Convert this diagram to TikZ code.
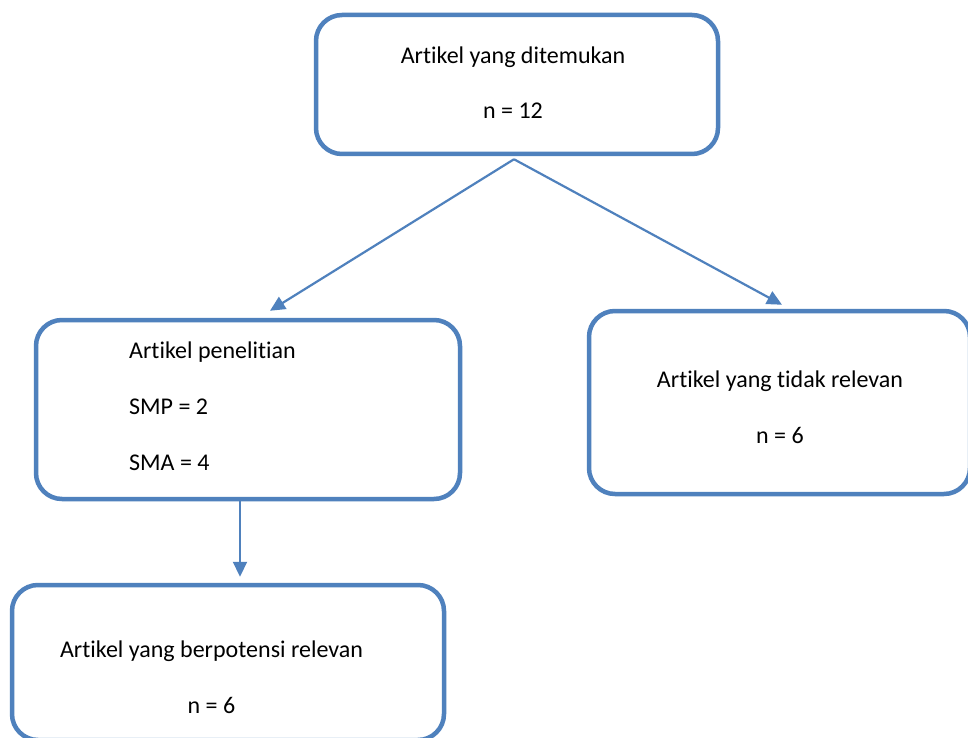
\documentclass[tikz,border=0pt]{standalone}
\usepackage{fontspec}
\setmainfont[Ligatures={NoCommon}]{Carlito}
\usetikzlibrary{arrows.meta}
\definecolor{boxblue}{HTML}{4F81BD}
\tikzset{
  box/.style={draw=boxblue, line width=4.5pt, rounded corners=26pt, fill=none, inner sep=0pt},
  lbl/.style={inner sep=0pt, font=\fontsize{24}{28}\selectfont, text=black},
  conn/.style={draw=boxblue, line width=2.2pt, -{Triangle[length=15pt,width=14pt]}}
}
\begin{document}
\begin{tikzpicture}[x=1pt,y=-1pt]
\useasboundingbox (0,0) rectangle (968,738);
\fill[white] (0,0) rectangle (968,738);
\begin{scope}
\clip (0,0) rectangle (968,738);
\node[box, minimum width=402pt, minimum height=139pt] (top) at (517,84.5) {};
\node[box, minimum width=424pt, minimum height=179pt] (left) at (248,409.5) {};
\node[box, minimum width=381pt, minimum height=183pt] (right) at (779.5,402.5) {};
\node[box, minimum width=432pt, minimum height=155pt] (bottom) at (228,662.5) {};
\end{scope}

\node[lbl, anchor=base] (t1) at (513,64) {Artikel yang ditemukan};
\node[lbl, anchor=base] (t2) at (513,119) {n = 12};

\node[lbl, anchor=base west] (l1) at (129,358) {Artikel penelitian};
\node[lbl, anchor=base west] (l2) at (129,414) {SMP = 2};
\node[lbl, anchor=base west] (l3) at (129,470) {SMA = 4};

\node[lbl, anchor=base] (r1) at (780,387) {Artikel yang tidak relevan};
\node[lbl, anchor=base] (r2) at (780,443) {n = 6};

\node[lbl, anchor=base] (b1) at (211.5,657) {Artikel yang berpotensi relevan};
\node[lbl, anchor=base] (b2) at (211.5,713) {n = 6};

\draw[conn] ([shift={(-3,3)}]top.south) -- ([shift={(22,-7)}]left.north);
\draw[conn] ([shift={(-3,3)}]top.south) -- ([shift={(2.5,-4)}]right.north);
\draw[conn] ([shift={(-8,0)}]left.south) -- ([shift={(12,-6)}]bottom.north);
\end{tikzpicture}
\end{document}
